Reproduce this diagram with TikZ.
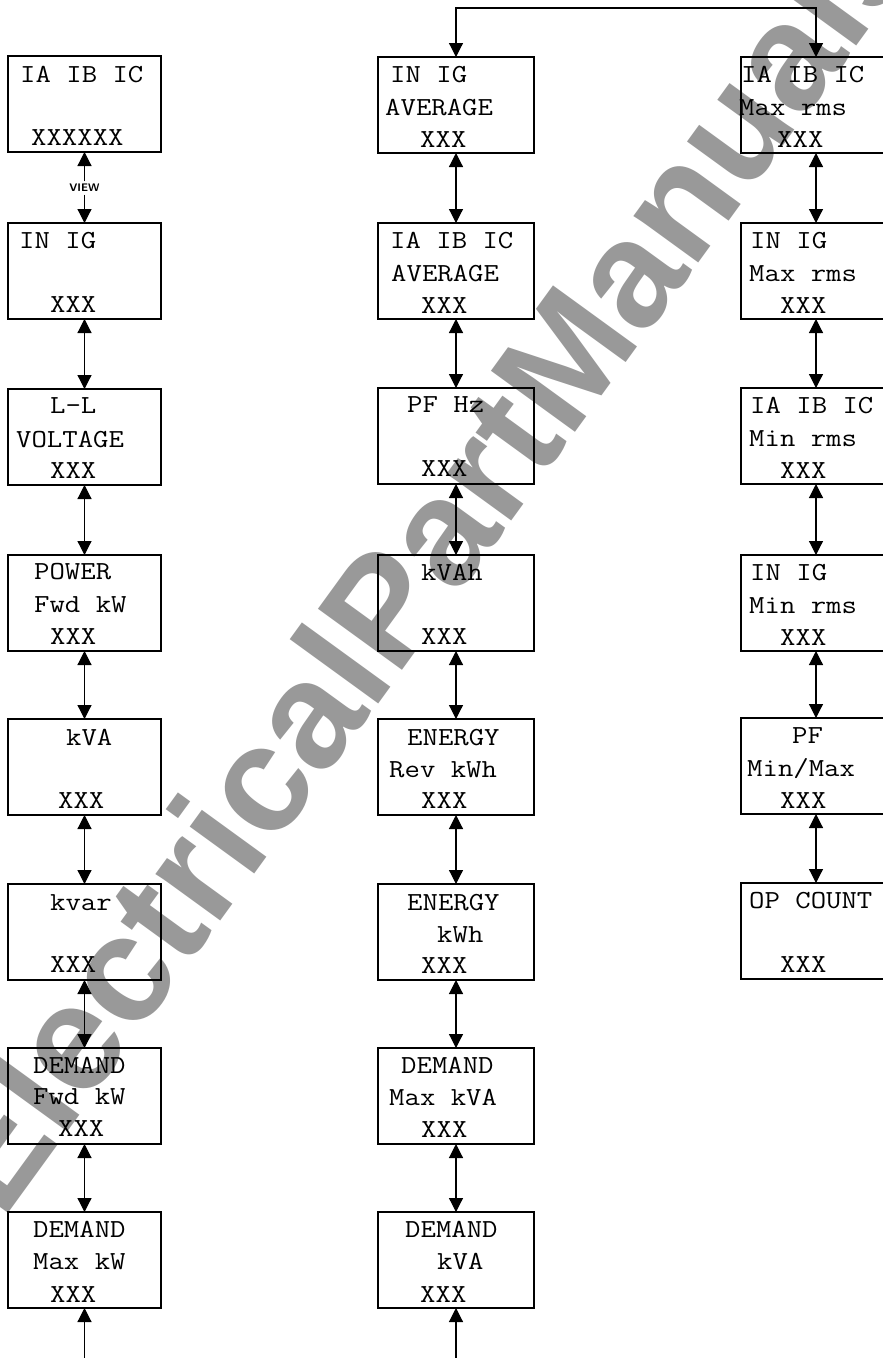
\documentclass[tikz,border=0pt]{standalone}
\usepackage{fontspec}
\usepackage{graphicx}
\usetikzlibrary{arrows.meta,calc}
\newfontfamily\wmfont{Liberation Sans}
\newcommand\lcdt[1]{\scalebox{1.15}[1]{#1}}
\begin{document}
\begin{tikzpicture}[x=1pt,y=-1pt,
  lcdL/.style={draw, line width=1.4pt, minimum width=153pt, minimum height=96pt, anchor=north west, inner sep=0pt, outer sep=0pt},
  lcdM/.style={lcdL, minimum width=156pt},
  lcdR/.style={lcdL, minimum width=150pt},
  txt/.style={anchor=base west, inner sep=0pt, font=\ttfamily\fontsize{26}{30}\selectfont},
  link/.style={line width=1.2pt, {Triangle[width=14pt,length=14pt]}-{Triangle[width=14pt,length=14pt]}},
  one/.style={line width=1.2pt, -{Triangle[width=14pt,length=14pt]}},
  viewl/.style={inner sep=2.5pt, font=\sffamily\bfseries\fontsize{11}{11}\selectfont},
  wm/.style={anchor=base west, rotate=54, inner sep=0pt, text=black!40, font=\wmfont\bfseries\fontsize{151}{151}\selectfont}
]
\useasboundingbox (0,0) rectangle (883,1358);
\fill[white] (0,0) rectangle (883,1358);
% watermark
\node[wm] (wmark) at (2,1222) {ElectricalPartManuals};

% ---------- left column ----------
\node[lcdL] (b1) at (8,56) {};
\node[lcdL] (b2) at (8,223) {};
\node[lcdL] (b3) at (8,389) {};
\node[lcdL] (b4) at (8,555) {};
\node[lcdL] (b5) at (8,719) {};
\node[lcdL] (b6) at (8,884) {};
\node[lcdL] (b7) at (8,1048) {};
\node[lcdL] (b8) at (8,1212) {};

\node[txt] (b1a) at (20,82) {\lcdt{IA IB IC}};
\node[txt] (b1c) at (31,145) {\lcdt{XXXXXX}};
\node[txt] (b2a) at (19,248) {\lcdt{IN IG}};
\node[txt] (b2c) at (50,312) {\lcdt{XXX}};
\node[txt] (b3a) at (50,413) {\lcdt{L-L}};
\node[txt] (b3b) at (16,447) {\lcdt{VOLTAGE}};
\node[txt] (b3c) at (50,478) {\lcdt{XXX}};
\node[txt] (b4a) at (34,579) {\lcdt{POWER}};
\node[txt] (b4b) at (34,612) {\lcdt{Fwd kW}};
\node[txt] (b4c) at (50,644) {\lcdt{XXX}};
\node[txt] (b5a) at (66,745) {\lcdt{kVA}};
\node[txt] (b5c) at (58,808) {\lcdt{XXX}};
\node[txt] (b6a) at (50,910) {\lcdt{kvar}};
\node[txt] (b6c) at (50,972) {\lcdt{XXX}};
\node[txt] (b7a) at (33,1073) {\lcdt{DEMAND}};
\node[txt] (b7b) at (33,1104) {\lcdt{Fwd kW}};
\node[txt] (b7c) at (58,1136) {\lcdt{XXX}};
\node[txt] (b8a) at (33,1237) {\lcdt{DEMAND}};
\node[txt] (b8b) at (33,1269) {\lcdt{Max kW}};
\node[txt] (b8c) at (50,1302) {\lcdt{XXX}};

\node[viewl] (view) at (b1.south |- 0,188) {VIEW};
\draw[one] (view.north) -- (b1.south);
\draw[one] (view.south) -- (b2.north);
\draw[link] (b2.south) -- (b3.north);
\draw[link] (b3.south) -- (b4.north);
\draw[link] (b4.south) -- (b5.north);
\draw[link] (b5.south) -- (b6.north);
\draw[link] (b6.south) -- (b7.north);
\draw[link] (b7.south) -- (b8.north);
\coordinate (bend) at (b8.south |- 0,1362);
\draw[one] (bend) -- (b8.south);

% ---------- middle column ----------
\node[lcdM] (m1) at (378,57) {};
\node[lcdM] (m2) at (378,223) {};
\node[lcdM] (m3) at (378,388) {};
\node[lcdM] (m4) at (378,555) {};
\node[lcdM] (m5) at (378,719) {};
\node[lcdM] (m6) at (378,884) {};
\node[lcdM] (m7) at (378,1048) {};
\node[lcdM] (m8) at (378,1212) {};

\node[txt] (m1a) at (390,82) {\lcdt{IN IG}};
\node[txt] (m1b) at (385,115) {\lcdt{AVERAGE}};
\node[txt] (m1c) at (420,147) {\lcdt{XXX}};
\node[txt] (m2a) at (390,248) {\lcdt{IA IB IC}};
\node[txt] (m2b) at (391,281) {\lcdt{AVERAGE}};
\node[txt] (m2c) at (421,313) {\lcdt{XXX}};
\node[txt] (m3a) at (407,412) {\lcdt{PF Hz}};
\node[txt] (m3c) at (421,476) {\lcdt{XXX}};
\node[txt] (m4a) at (421,580) {\lcdt{kVAh}};
\node[txt] (m4c) at (421,644) {\lcdt{XXX}};
\node[txt] (m5a) at (407,745) {\lcdt{ENERGY}};
\node[txt] (m5b) at (389,777) {\lcdt{Rev kWh}};
\node[txt] (m5c) at (421,808) {\lcdt{XXX}};
\node[txt] (m6a) at (407,910) {\lcdt{ENERGY}};
\node[txt] (m6b) at (437,942) {\lcdt{kWh}};
\node[txt] (m6c) at (421,973) {\lcdt{XXX}};
\node[txt] (m7a) at (401,1073) {\lcdt{DEMAND}};
\node[txt] (m7b) at (389,1105) {\lcdt{Max kVA}};
\node[txt] (m7c) at (421,1137) {\lcdt{XXX}};
\node[txt] (m8a) at (405,1237) {\lcdt{DEMAND}};
\node[txt] (m8b) at (437,1269) {\lcdt{kVA}};
\node[txt] (m8c) at (420,1302) {\lcdt{XXX}};

\draw[link] (m1.south) -- (m2.north);
\draw[link] (m2.south) -- (m3.north);
\draw[link] (m3.south) -- (m4.north);
\draw[link] (m4.south) -- (m5.north);
\draw[link] (m5.south) -- (m6.north);
\draw[link] (m6.south) -- (m7.north);
\draw[link] (m7.south) -- (m8.north);
\coordinate (mend) at (m8.south |- 0,1362);
\draw[one] (mend) -- (m8.south);

% ---------- right column ----------
\node[lcdR, line width=2.4pt] (r1) at (741,57) {};
\node[lcdR] (r2) at (741,223) {};
\node[lcdR] (r3) at (741,388) {};
\node[lcdR] (r4) at (741,555) {};
\node[lcdR] (r5) at (741,718) {};
\node[lcdR] (r6) at (741,883) {};

\node[txt] (r1a) at (741,82) {\lcdt{IA IB IC}};
\node[txt] (r1b) at (739,115) {\lcdt{Max rms}};
\node[txt] (r1c) at (777,147) {\lcdt{XXX}};
\node[txt] (r2a) at (750,248) {\lcdt{IN IG}};
\node[txt] (r2b) at (749,281) {\lcdt{Max rms}};
\node[txt] (r2c) at (780,313) {\lcdt{XXX}};
\node[txt] (r3a) at (750,413) {\lcdt{IA IB IC}};
\node[txt] (r3b) at (749,446) {\lcdt{Min rms}};
\node[txt] (r3c) at (780,478) {\lcdt{XXX}};
\node[txt] (r4a) at (750,580) {\lcdt{IN IG}};
\node[txt] (r4b) at (749,613) {\lcdt{Min rms}};
\node[txt] (r4c) at (780,645) {\lcdt{XXX}};
\node[txt] (r5a) at (792,743) {\lcdt{PF}};
\node[txt] (r5b) at (747,776) {\lcdt{Min/Max}};
\node[txt] (r5c) at (780,808) {\lcdt{XXX}};
\node[txt] (r6a) at (749,908) {\lcdt{OP COUNT}};
\node[txt] (r6c) at (780,972) {\lcdt{XXX}};

\draw[link] (r1.south) -- (r2.north);
\draw[link] (r2.south) -- (r3.north);
\draw[link] (r3.south) -- (r4.north);
\draw[link] (r4.south) -- (r5.north);
\draw[link] (r5.south) -- (r6.north);

% ---------- top connector ----------
\coordinate (tl) at (m1.north |- 0,8);
\coordinate (tr) at (r1.north |- 0,8);
\draw[link] (m1.north) -- (tl) -- (tr) -- (r1.north);
\end{tikzpicture}
\end{document}
